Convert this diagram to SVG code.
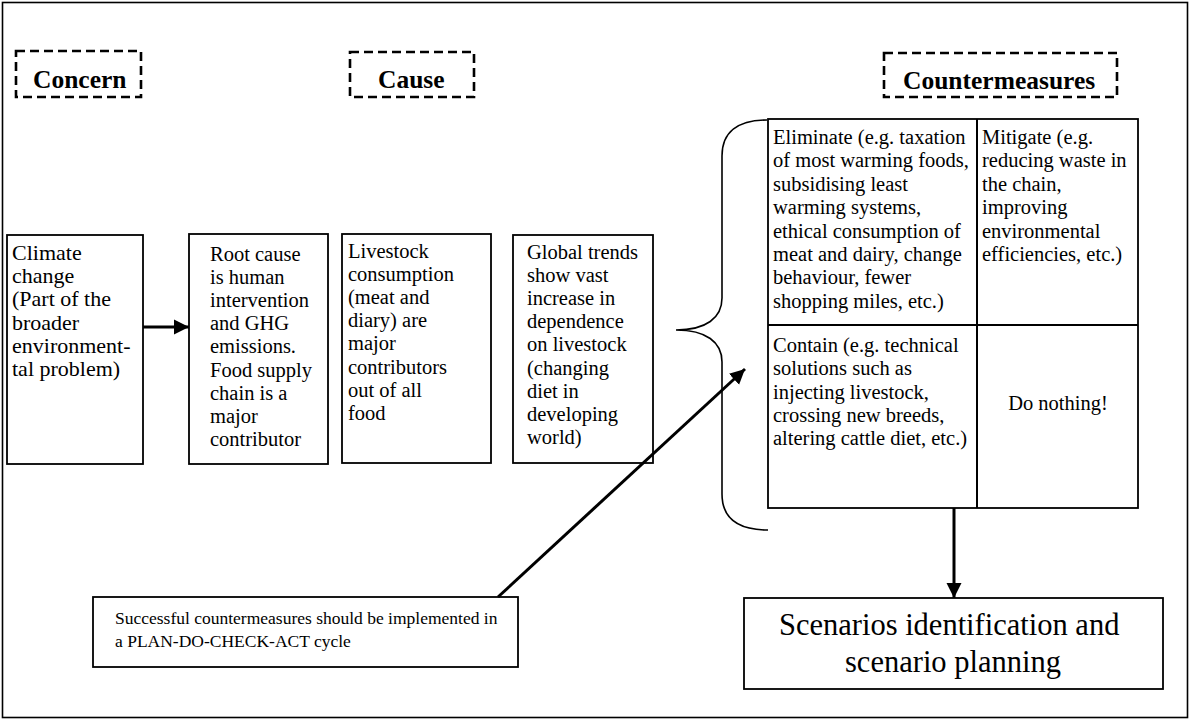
<svg xmlns="http://www.w3.org/2000/svg" width="1190" height="720" viewBox="0 0 1190 720">
<defs>
<style>
.box{fill:#fff;stroke:#000;stroke-width:1.8}
.dash{fill:none;stroke:#000;stroke-width:2.6;stroke-dasharray:9 5}
.t{font-family:"Liberation Serif","Times New Roman",serif;font-size:20.5px;fill:#000}
.big{font-size:22px}
.h{font-family:"Liberation Serif","Times New Roman",serif;font-size:25.5px;font-weight:bold;fill:#000}
.small{font-size:17.5px}
.sc{font-size:30.5px}
.conn{fill:none;stroke:#000;stroke-width:3}
.brace{fill:none;stroke:#000;stroke-width:1.6}
</style>
<marker id="ah" markerUnits="userSpaceOnUse" markerWidth="16" markerHeight="16" refX="15" refY="8" orient="auto">
<path d="M0,0.5 L15,8 L0,15.5 Z" fill="#000"/>
</marker>
</defs>
<rect x="0" y="0" width="1190" height="720" fill="#fff"/>
<rect x="2.5" y="2.5" width="1185" height="715" fill="none" stroke="#000" stroke-width="1.6"/>

<g id="concern-label">
<rect class="dash" x="16" y="51" width="125" height="46"/>
<text class="h" x="33" y="88">Concern</text>
</g>
<g id="cause-label">
<rect class="dash" x="350" y="52" width="124" height="45"/>
<text class="h" x="378" y="88">Cause</text>
</g>
<g id="countermeasures-label">
<rect class="dash" x="884" y="53" width="233" height="44"/>
<text class="h" x="903" y="89">Countermeasures</text>
</g>

<g id="climate">
<rect class="box" x="7" y="235" width="136" height="229"/>
<text class="t big" x="12" y="260">
<tspan x="12" y="260">Climate</tspan>
<tspan x="12" y="283.2">change</tspan>
<tspan x="12" y="306.4">(Part of the</tspan>
<tspan x="12" y="329.6">broader</tspan>
<tspan x="12" y="352.8">environment-</tspan>
<tspan x="12" y="376">tal problem)</tspan>
</text>
</g>

<g id="root-cause">
<rect class="box" x="189" y="234" width="139" height="230"/>
<text class="t">
<tspan x="210" y="261">Root cause</tspan>
<tspan x="210" y="284.1">is human</tspan>
<tspan x="210" y="307.2">intervention</tspan>
<tspan x="210" y="330.3">and GHG</tspan>
<tspan x="210" y="353.4">emissions.</tspan>
<tspan x="210" y="376.5">Food supply</tspan>
<tspan x="210" y="399.6">chain is a</tspan>
<tspan x="210" y="422.7">major</tspan>
<tspan x="210" y="445.8">contributor</tspan>
</text>
</g>

<g id="livestock">
<rect class="box" x="342" y="234" width="149" height="229"/>
<text class="t">
<tspan x="348" y="258">Livestock</tspan>
<tspan x="348" y="281.1">consumption</tspan>
<tspan x="348" y="304.2">(meat and</tspan>
<tspan x="348" y="327.3">diary) are</tspan>
<tspan x="348" y="350.4">major</tspan>
<tspan x="348" y="373.5">contributors</tspan>
<tspan x="348" y="396.6">out of all</tspan>
<tspan x="348" y="419.7">food</tspan>
</text>
</g>

<g id="global-trends">
<rect class="box" x="513" y="235" width="140" height="228"/>
<text class="t">
<tspan x="527" y="259">Global trends</tspan>
<tspan x="527" y="282.1">show vast</tspan>
<tspan x="527" y="305.2">increase in</tspan>
<tspan x="527" y="328.3">dependence</tspan>
<tspan x="527" y="351.4">on livestock</tspan>
<tspan x="527" y="374.5">(changing</tspan>
<tspan x="527" y="397.6">diet in</tspan>
<tspan x="527" y="420.7">developing</tspan>
<tspan x="527" y="443.8">world)</tspan>
</text>
</g>

<g id="brace">
<path class="brace" d="M767,120 C738,120 722,132 722,156 L722,298 C722,318 706,330 676,330 C706,330 722,342 722,362 L722,494 C722,518 738,530 768,530"/>
</g>

<g id="countermeasure-grid">
<rect class="box" x="768" y="119" width="370" height="389" stroke-width="2"/>
<line x1="977" y1="119" x2="977" y2="508" stroke="#000" stroke-width="2"/>
<line x1="768" y1="325" x2="1138" y2="325" stroke="#000" stroke-width="2"/>
</g>

<g id="eliminate">
<text class="t">
<tspan x="773" y="144">Eliminate (e.g. taxation</tspan>
<tspan x="773" y="167.4">of most warming foods,</tspan>
<tspan x="773" y="190.8">subsidising least</tspan>
<tspan x="773" y="214.2">warming systems,</tspan>
<tspan x="773" y="237.6">ethical consumption of</tspan>
<tspan x="773" y="261">meat and dairy, change</tspan>
<tspan x="773" y="284.4">behaviour, fewer</tspan>
<tspan x="773" y="307.8">shopping miles, etc.)</tspan>
</text>
</g>

<g id="mitigate">
<text class="t">
<tspan x="982" y="144">Mitigate (e.g.</tspan>
<tspan x="982" y="167.4">reducing waste in</tspan>
<tspan x="982" y="190.8">the chain,</tspan>
<tspan x="982" y="214.2">improving</tspan>
<tspan x="982" y="237.6">environmental</tspan>
<tspan x="982" y="261">efficiencies, etc.)</tspan>
</text>
</g>

<g id="contain">
<text class="t">
<tspan x="773" y="352">Contain (e.g. technical</tspan>
<tspan x="773" y="375.3">solutions such as</tspan>
<tspan x="773" y="398.6">injecting livestock,</tspan>
<tspan x="773" y="421.9">crossing new breeds,</tspan>
<tspan x="773" y="445.2">altering cattle diet, etc.)</tspan>
</text>
</g>

<g id="do-nothing">
<text class="t" x="1058" y="410" text-anchor="middle">Do nothing!</text>
</g>

<g id="pdca">
<rect class="box" x="93" y="597" width="425" height="70"/>
<text class="t small">
<tspan x="115" y="624">Successful countermeasures should be implemented in</tspan>
<tspan x="115" y="647">a PLAN-DO-CHECK-ACT cycle</tspan>
</text>
</g>

<g id="scenarios">
<rect class="box" x="744" y="598" width="419" height="91"/>
<text class="t sc" text-anchor="middle">
<tspan x="953" y="635">Scenarios identification and</tspan>
<tspan x="953" y="672">scenario planning</tspan>
</text>
</g>

<g id="connectors">
<line class="conn" x1="143" y1="327" x2="189" y2="327" marker-end="url(#ah)"/>
<line class="conn" x1="954" y1="508" x2="954" y2="598" marker-end="url(#ah)"/>
<line class="conn" x1="498" y1="597" x2="745" y2="369" marker-end="url(#ah)"/>
</g>
</svg>
